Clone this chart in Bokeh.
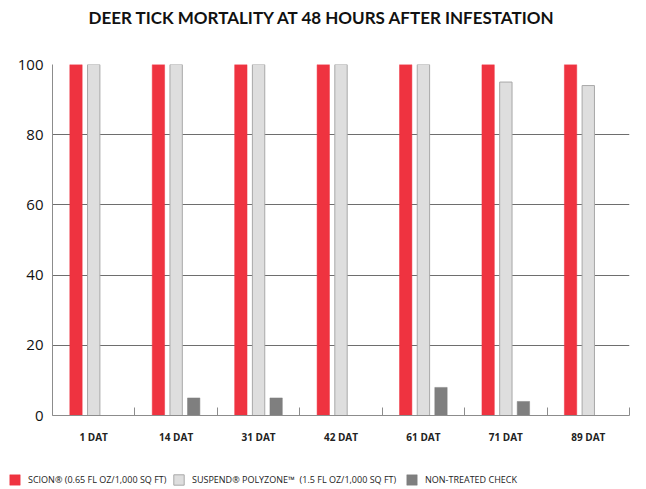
from bokeh.plotting import figure
from bokeh.layouts import column
from bokeh.models import Range1d, FixedTicker, Legend, LegendItem, LinearAxis, ColumnDataSource, Title
from bokeh.transform import dodge
from bokeh.embed import file_html
from bokeh.resources import INLINE
from bokeh.core.properties import value

categories = ["1 DAT", "14 DAT", "31 DAT", "42 DAT", "61 DAT", "71 DAT", "89 DAT"]
scion = [100, 100, 100, 100, 100, 100, 100]
suspend = [100, 100, 100, 100, 100, 95, 94]
check = [0, 5, 5, 0, 8, 4, 0]
series_names = ["SCION® (0.65 FL OZ/1,000 SQ FT)",
                "SUSPEND® POLYZONE™  (1.5 FL OZ/1,000 SQ FT)",
                "NON-TREATED CHECK"]
y_ticks = [0, 20, 40, 60, 80, 100]
title_text = "DEER TICK MORTALITY AT 48 HOURS AFTER INFESTATION"

FONT = "Open Sans"
RED, LIGHT, LIGHT_EDGE, DARK = "#ef3340", "#dedede", "#a8a8a8", "#7f7f7f"
centers = [i + 0.5 for i in range(len(categories))]
bounds = [i for i in range(len(categories) + 1)]

src = ColumnDataSource(dict(x=centers, scion=scion, suspend=suspend, check=check))

p = figure(frame_width=577, frame_height=351,
           min_border_left=52, min_border_right=17, min_border_top=64, min_border_bottom=40,
           x_range=Range1d(0, len(categories)), y_range=Range1d(0, 100),
           output_backend="svg", toolbar_location=None,
           x_axis_location=None, y_axis_location=None)
p.outline_line_color = None
p.xgrid.visible = False

# spacer between title and plot frame
spacer = Title(text=" ", text_font_size="10px", standoff=24)
p.add_layout(spacer, "above")

p.title.text = title_text
p.title.align = "left"
p.title.offset = 36
p.title.text_font = "Lato"
p.title.text_font_size = "17px"
p.title.text_font_style = "bold"
p.title.text_color = "#111111"
p.title.standoff = 0

yaxis = LinearAxis(ticker=FixedTicker(ticks=y_ticks))
yaxis.axis_line_color = "#8c8c8c"
yaxis.major_tick_in = 0
yaxis.major_tick_out = 0
yaxis.minor_tick_in = 0
yaxis.minor_tick_out = 0
yaxis.major_label_text_font = FONT
yaxis.major_label_text_font_size = "15px"
yaxis.major_label_text_color = "#111111"
yaxis.major_label_standoff = 9
p.add_layout(yaxis, "left")

p.ygrid.ticker = FixedTicker(ticks=y_ticks)
p.ygrid.grid_line_color = "#6e6e6e"
p.ygrid.grid_line_width = 1

xaxis = LinearAxis(ticker=FixedTicker(ticks=centers, minor_ticks=bounds))
xaxis.major_label_overrides = {c: lab for c, lab in zip(centers, categories)}
xaxis.axis_line_color = "#8c8c8c"
xaxis.major_tick_in = 0
xaxis.major_tick_out = 0
xaxis.minor_tick_in = 8
xaxis.minor_tick_out = 0
xaxis.minor_tick_line_color = "#8c8c8c"
xaxis.major_label_text_font = FONT
xaxis.major_label_text_font_size = "10px"
xaxis.major_label_text_font_style = "bold"
xaxis.major_label_text_color = "#222222"
xaxis.major_label_standoff = 14
p.add_layout(xaxis, "below")

w = 0.15
p.vbar(x=dodge("x", -0.215, range=p.x_range), top="scion", width=w, source=src,
       fill_color=RED, line_color=RED, line_width=0.5)
p.vbar(x=dodge("x", 0.0, range=p.x_range), top="suspend", width=w, source=src,
       fill_color=LIGHT, line_color=LIGHT_EDGE, line_width=1)
p.vbar(x=dodge("x", 0.213, range=p.x_range), top="check", width=w, source=src,
       fill_color=DARK, line_color=DARK, line_width=0.5)

# legend strip below the chart (its renderers use the same data, kept out of view)
lg = figure(width=646, height=34, min_border=0,
            x_range=Range1d(100, 101), y_range=Range1d(1000, 1001),
            output_backend="svg", toolbar_location=None,
            x_axis_location=None, y_axis_location=None)
lg.outline_line_color = None
lg.grid.visible = False
k1 = lg.vbar(x="x", top="scion", width=w, source=src, fill_color=RED, line_color=RED, line_width=0.5)
k2 = lg.vbar(x="x", top="suspend", width=w, source=src, fill_color=LIGHT, line_color=LIGHT_EDGE, line_width=1)
k3 = lg.vbar(x="x", top="check", width=w, source=src, fill_color=DARK, line_color=DARK, line_width=0.5)

if "frame_align" in lg.properties():
    lg.frame_align = False
    legend_x = [8, 172, 405]
else:
    legend_x = [-46, 118, 351]

for name, rend, lx in zip(series_names, [k1, k2, k3], legend_x):
    legend = Legend(items=[LegendItem(label=name, renderers=[rend], index=0)],
                    orientation="horizontal", location=(lx, 3))
    legend.glyph_width = 13
    legend.glyph_height = 13
    legend.label_standoff = 7
    legend.padding = 0
    legend.margin = 0
    legend.border_line_color = None
    legend.background_fill_alpha = 0
    legend.label_text_font = FONT
    legend.label_text_font_size = "9px"
    legend.label_text_color = "#222222"
    legend.label_height = 13
    lg.add_layout(legend, "center")

layout = column(p, lg, spacing=0)
open("out.html", "w").write(file_html(layout, INLINE))
